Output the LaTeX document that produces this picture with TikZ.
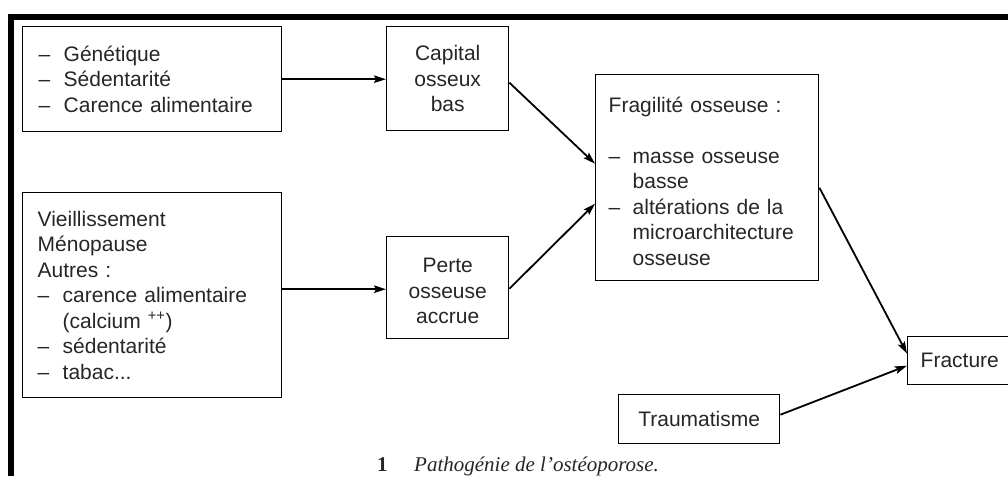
\documentclass[tikz,border=0pt]{standalone}
\usepackage{fontspec}
\setmainfont{Liberation Sans}
\newfontfamily\capfont{Liberation Serif}
\usetikzlibrary{arrows.meta,calc}
\newcommand\dashmark[1][25pt]{\makebox[#1][l]{–}}
\newcommand\dashindent[1][25pt]{\hspace*{#1}}
\begin{document}
\begin{tikzpicture}[x=1pt,y=-1pt,
  box/.style={draw, line width=1.4pt, inner ysep=0pt, anchor=north west,
    font=\fontsize{21}{25.5}\selectfont, text=black!85},
  arr/.style={line width=1.8pt, -{Stealth[length=12pt,width=7.5pt,inset=2pt]}},
  captext/.style={anchor=base west, inner sep=0pt, font=\capfont\fontsize{21}{25}\selectfont, text=black!85}
]
\useasboundingbox (0,0) rectangle (1008,476);
\clip (0,0) rectangle (1008,476);
% outer frame
\fill (8,14.5) rectangle (1008,20.5);
\fill (8,14.5) rectangle (13.5,476);

\node[box, minimum width=259pt, minimum height=105pt, text width=227pt, inner xsep=16pt, align=left]
  (gen) at (22,26) {\dashmark Génétique\\\dashmark Sédentarité\\\dashmark Carence alimentaire};
\node[box, minimum width=122pt, minimum height=104pt, inner xsep=0pt, align=center]
  (cap) at (386,26) {Capital\\osseux\\bas};
\node[box, minimum width=259pt, minimum height=205pt, text width=229pt, inner xsep=15pt, align=left]
  (vieil) at (22,192) {Vieillissement\\Ménopause\\Autres :\\\dashmark carence alimentaire\\\dashindent(calcium \textsuperscript{++})\\\dashmark sédentarité\\\dashmark tabac...};
\node[box, minimum width=122pt, minimum height=102pt, inner xsep=0pt, align=center]
  (perte) at (386,236) {\rule{0pt}{21pt}Perte\\osseuse\\accrue};
\node[box, minimum width=223pt, minimum height=206pt, text width=197pt, inner xsep=13pt, align=left]
  (frag) at (595,74) {\rule{0pt}{22pt}Fragilité osseuse :\\[25.5pt]\dashmark[24pt]masse osseuse\\\dashindent[24pt]basse\\\dashmark[24pt]altérations de la\\\dashindent[24pt]microarchitecture\\\dashindent[24pt]osseuse};
\node[box, minimum height=48pt, text width=110pt, inner xsep=13pt, align=left]
  (fract) at (907,336) {Fracture};
\node[box, minimum width=161pt, minimum height=49pt, inner xsep=0pt, align=center]
  (trauma) at (618,394) {Traumatisme};

\node[captext] (capnum) at (377,471) {\bfseries 1};
\node[captext] (captxt) at (414,471) {\itshape Pathogénie de l’ostéoporose.};

\draw[arr] (gen.east) -- (gen.east -| cap.west);
\draw[arr] ([yshift=-4pt]cap.east) -- ([yshift=14pt]frag.west);
\draw[arr] ([yshift=-1.5pt]perte.west -| vieil.east) -- ([yshift=-1.5pt]perte.west);
\draw[arr] ([yshift=-1pt]perte.east) -- ([yshift=-26pt]frag.west);
\draw[arr] ([yshift=-10pt]frag.east) -- ([yshift=7pt]fract.west);
\draw[arr] ([yshift=4.5pt]trauma.east) -- ([yshift=-5pt]fract.west);
\end{tikzpicture}
\end{document}
